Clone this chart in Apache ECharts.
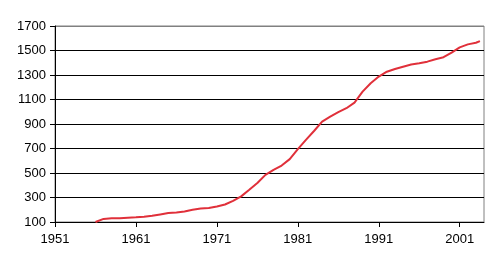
<!DOCTYPE html>
<html><head><meta charset="utf-8">
<script src="https://cdn.jsdelivr.net/npm/echarts@6/dist/echarts.min.js"></script>
<style>html,body{margin:0;padding:0;background:#fff}#c{width:499px;height:268px}</style>
</head><body><div id="c"></div>
<script>
const years = [1956,1957,1958,1959,1960,1961,1962,1963,1964,1965,1966,1967,1968,1969,1970,1971,1972,1973,1974,1975,1976,1977,1978,1979,1980,1981,1982,1983,1984,1985,1986,1987,1988,1989,1990,1991,1992,1993,1994,1995,1996,1997,1998,1999,2000,2001,2002,2003,2003.5];
const values = [100,125,130,130,135,138,143,151,162,173,178,186,200,211,214,227,243,273,309,363,418,485,526,561,613,695,771,843,920,961,997,1029,1075,1164,1233,1287,1327,1349,1368,1385,1396,1409,1428,1445,1482,1526,1550,1563,1577];
const xTicks = [1951,1961,1971,1981,1991,2001];
const yTicks = [100,300,500,700,900,1100,1300,1500,1700];

const chart = echarts.init(document.getElementById('c'), null, {renderer:'canvas'});
const font = {fontFamily:'Liberation Sans, Arial, sans-serif', fontSize:13, color:'#000', formatter:v=>String(v)};
chart.setOption({
  animation:false,
  grid:{left:55, right:15, top:26, bottom:46, show:true, borderColor:'#808080', borderWidth:1, containLabel:false},
  xAxis:{type:'value', min:1951, max:2004,
    axisLine:{show:true, lineStyle:{color:'#000', width:1}},
    axisTick:{show:true, length:5, inside:false, customValues:xTicks, lineStyle:{color:'#000'}},
    axisLabel:Object.assign({margin:11, customValues:xTicks}, font),
    splitLine:{show:false}},
  yAxis:{type:'value', min:100, max:1700, interval:200,
    axisLine:{show:true, lineStyle:{color:'#000', width:1}},
    axisTick:{show:true, length:5, lineStyle:{color:'#000'}},
    axisLabel:Object.assign({margin:9, customValues:yTicks}, font),
    splitLine:{show:true, lineStyle:{color:['#000','#000','#000','#000','#000','#000','#000','#000','#808080'], width:1}}},
  series:[{type:'line', data:years.map((y,i)=>[y, values[i]]), showSymbol:false, symbol:'none',
    lineStyle:{color:'#e0303a', width:2}, smooth:false}]
});
</script></body></html>
